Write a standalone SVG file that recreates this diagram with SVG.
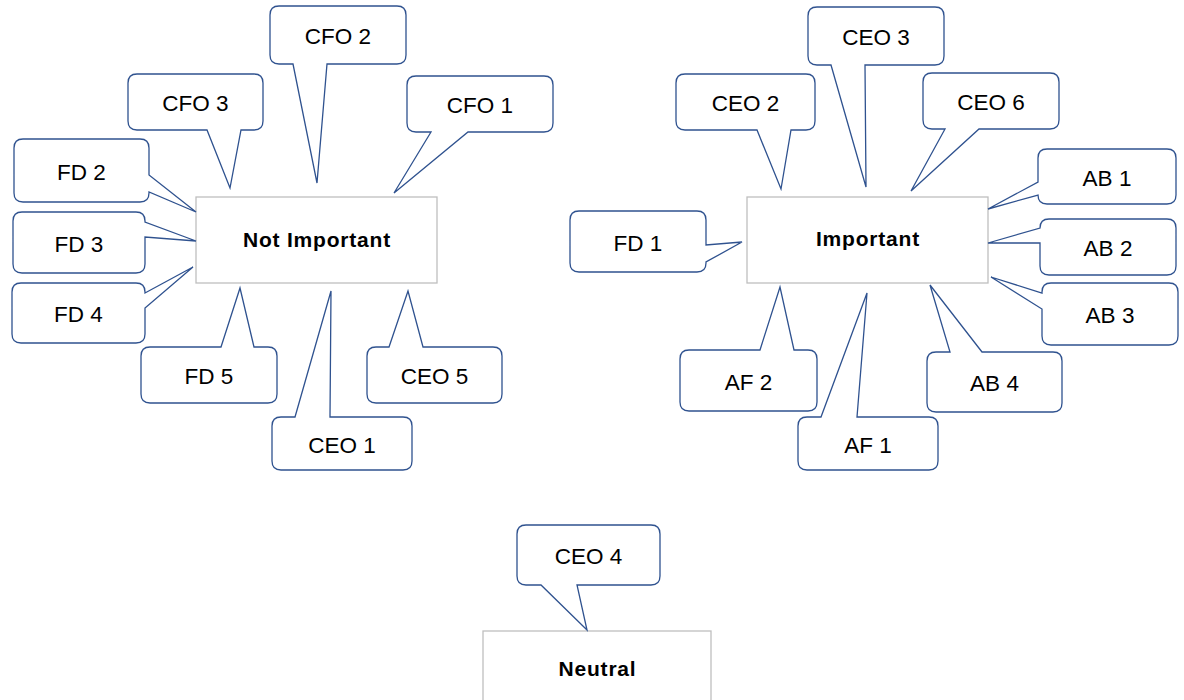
<svg xmlns="http://www.w3.org/2000/svg" width="1184" height="700" viewBox="0 0 1184 700">
<style>
.bg{fill:#ffffff}
.main{fill:#ffffff;stroke:#BFBFBF;stroke-width:1.3}
.co{fill:#ffffff;stroke:#2F528F;stroke-width:1.3;stroke-linejoin:miter}
.lbl{font-family:"Liberation Sans",Arial,sans-serif;font-size:22.5px;fill:#000000;text-anchor:middle}
.ttl{font-family:"Liberation Sans",Arial,sans-serif;font-size:21px;font-weight:bold;letter-spacing:0.8px;fill:#000000;text-anchor:middle}
</style>
<rect class="bg" x="0" y="0" width="1184" height="700"/>
<g id="connectors"/>
<g id="not-important"><rect class="main" x="196" y="197" width="241" height="86"/><text class="ttl" x="317" y="247">Not Important</text></g>
<g id="important"><rect class="main" x="747" y="197" width="241" height="86"/><text class="ttl" x="868" y="246">Important</text></g>
<g id="neutral"><rect class="main" x="483" y="631" width="228" height="90"/><text class="ttl" x="597.5" y="676">Neutral</text></g>

<g id="cfo2"><path class="co" d="M279 6 H397 Q406 6 406 15 V55 Q406 64 397 64 H327 L317 183 L293 64 H279 Q270 64 270 55 V15 Q270 6 279 6 Z"/><text class="lbl" x="338" y="44">CFO 2</text></g>
<g id="cfo3"><path class="co" d="M137 74 H254 Q263 74 263 83 V121 Q263 130 254 130 H241 L230 188 L207 130 H137 Q128 130 128 121 V83 Q128 74 137 74 Z"/><text class="lbl" x="195.5" y="111">CFO 3</text></g>
<g id="cfo1"><path class="co" d="M416 76 H544 Q553 76 553 85 V123 Q553 132 544 132 H468 L394 193 L431 132 H416 Q407 132 407 123 V85 Q407 76 416 76 Z"/><text class="lbl" x="480" y="113">CFO 1</text></g>
<g id="fd2"><path class="co" d="M23 139 H140 Q149 139 149 148 V175 L196 212 L149 192 V193 Q149 202 140 202 H23 Q14 202 14 193 V148 Q14 139 23 139 Z"/><text class="lbl" x="81.5" y="179.5">FD 2</text></g>
<g id="fd3"><path class="co" d="M22 212 H136 Q145 212 145 221 V222 L196 241 L145 237 V264 Q145 273 136 273 H22 Q13 273 13 264 V221 Q13 212 22 212 Z"/><text class="lbl" x="79" y="251.5">FD 3</text></g>
<g id="fd4"><path class="co" d="M21 283 H136 Q145 283 145 292 V293 L193 267 L145 308 V334 Q145 343 136 343 H21 Q12 343 12 334 V292 Q12 283 21 283 Z"/><text class="lbl" x="78.5" y="322">FD 4</text></g>
<g id="fd5"><path class="co" d="M150 347 H221 L240 288 L254 347 H268 Q277 347 277 356 V394 Q277 403 268 403 H150 Q141 403 141 394 V356 Q141 347 150 347 Z"/><text class="lbl" x="209" y="384">FD 5</text></g>
<g id="ceo1"><path class="co" d="M281 417 H295 L331 291 L330 417 H403 Q412 417 412 426 V461 Q412 470 403 470 H281 Q272 470 272 461 V426 Q272 417 281 417 Z"/><text class="lbl" x="342" y="452.5">CEO 1</text></g>
<g id="ceo5"><path class="co" d="M376 347 H389 L408 291 L423 347 H493 Q502 347 502 356 V394 Q502 403 493 403 H376 Q367 403 367 394 V356 Q367 347 376 347 Z"/><text class="lbl" x="434.5" y="384">CEO 5</text></g>

<g id="ceo3"><path class="co" d="M817 7 H935 Q944 7 944 16 V56 Q944 65 935 65 H865 L866 187 L831 65 H817 Q808 65 808 56 V16 Q808 7 817 7 Z"/><text class="lbl" x="876" y="45">CEO 3</text></g>
<g id="ceo2"><path class="co" d="M685 74 H806 Q815 74 815 83 V121 Q815 130 806 130 H791 L781 189 L757 130 H685 Q676 130 676 121 V83 Q676 74 685 74 Z"/><text class="lbl" x="745.5" y="111">CEO 2</text></g>
<g id="ceo6"><path class="co" d="M932 73 H1050 Q1059 73 1059 82 V120 Q1059 129 1050 129 H979 L911 191 L945 129 H932 Q923 129 923 120 V82 Q923 73 932 73 Z"/><text class="lbl" x="991" y="110">CEO 6</text></g>
<g id="ab1"><path class="co" d="M1047 149 H1167 Q1176 149 1176 158 V195 Q1176 204 1167 204 H1047 Q1038 204 1038 195 L988 209 L1038 182 V158 Q1038 149 1047 149 Z"/><text class="lbl" x="1107" y="185.5">AB 1</text></g>
<g id="ab2"><path class="co" d="M1049 219 H1167 Q1176 219 1176 228 V266 Q1176 275 1167 275 H1049 Q1040 275 1040 266 V243 L988 243 L1040 228 Q1040 219 1049 219 Z"/><text class="lbl" x="1108" y="256">AB 2</text></g>
<g id="ab3"><path class="co" d="M1051 283 H1169 Q1178 283 1178 292 V336 Q1178 345 1169 345 H1051 Q1042 345 1042 336 V309 L991 277 L1042 293 V292 Q1042 283 1051 283 Z"/><text class="lbl" x="1110" y="323">AB 3</text></g>
<g id="fd1"><path class="co" d="M579 211 H697 Q706 211 706 220 V245 L742 242 L706 262 V263 Q706 272 697 272 H579 Q570 272 570 263 V220 Q570 211 579 211 Z"/><text class="lbl" x="638" y="250.5">FD 1</text></g>
<g id="ab4"><path class="co" d="M936 352 H950 L930 285 L982 352 H1053 Q1062 352 1062 361 V403 Q1062 412 1053 412 H936 Q927 412 927 403 V361 Q927 352 936 352 Z"/><text class="lbl" x="994.5" y="391">AB 4</text></g>
<g id="af2"><path class="co" d="M689 350 H760 L780 287 L794 350 H808 Q817 350 817 359 V402 Q817 411 808 411 H689 Q680 411 680 402 V359 Q680 350 689 350 Z"/><text class="lbl" x="748.5" y="389.5">AF 2</text></g>
<g id="af1"><path class="co" d="M807 417 H821 L867 293 L857 417 H929 Q938 417 938 426 V461 Q938 470 929 470 H807 Q798 470 798 461 V426 Q798 417 807 417 Z"/><text class="lbl" x="868" y="452.5">AF 1</text></g>

<g id="ceo4"><path class="co" d="M526 525 H651 Q660 525 660 534 V576 Q660 585 651 585 H577 L587 630 L541 585 H526 Q517 585 517 576 V534 Q517 525 526 525 Z"/><text class="lbl" x="588.5" y="564">CEO 4</text></g>
</svg>
